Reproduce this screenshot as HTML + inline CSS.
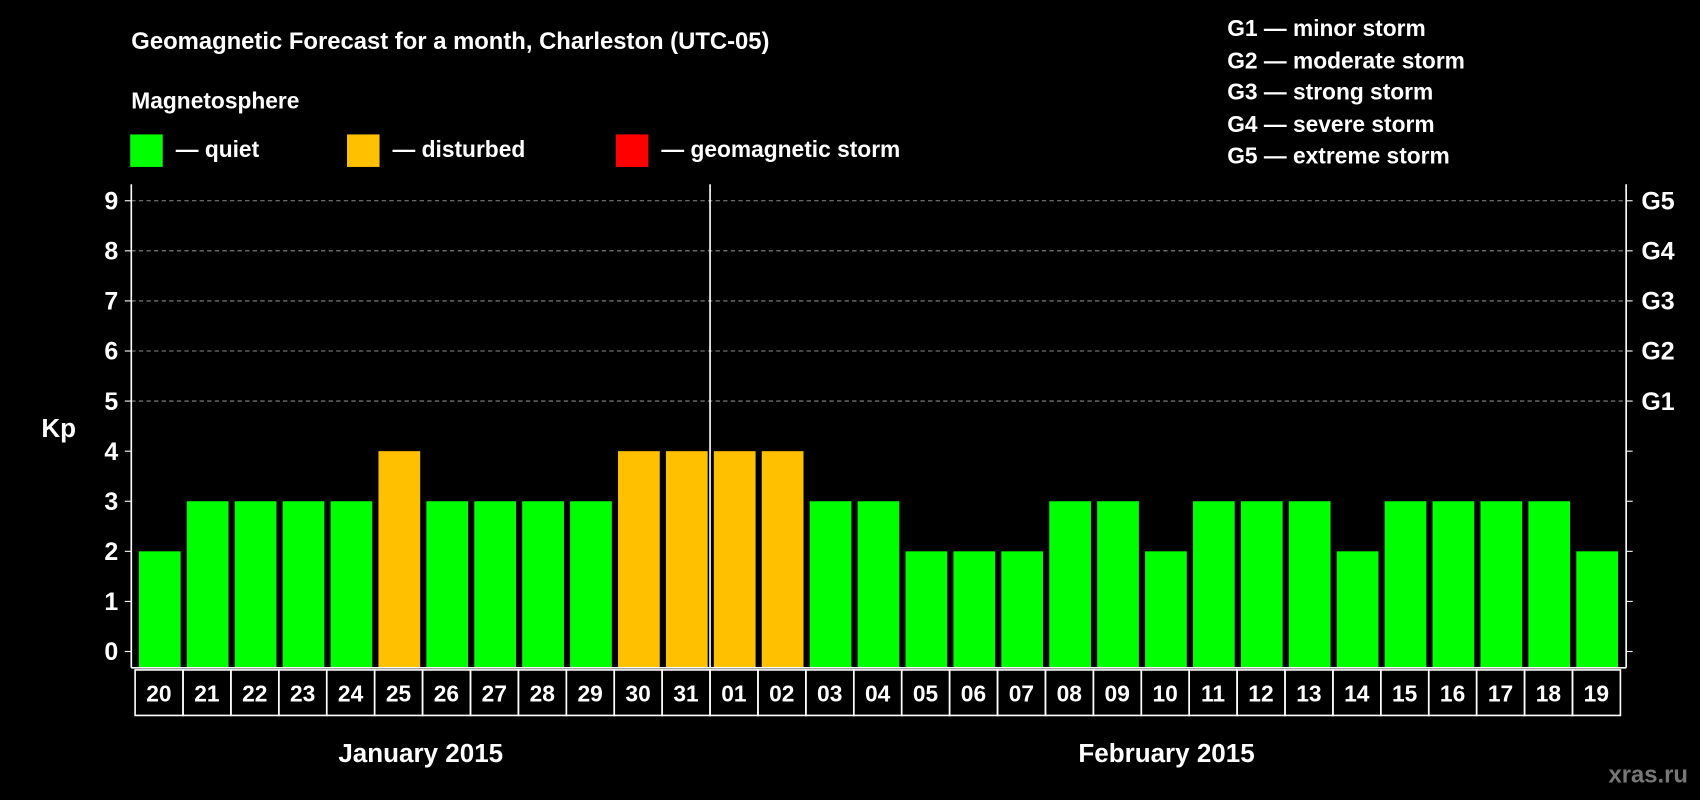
<!DOCTYPE html>
<html><head><meta charset="utf-8"><style>
html,body{margin:0;padding:0;background:#000;}
svg{display:block;font-family:"Liberation Sans",sans-serif;font-weight:bold;}
</style></head><body>
<svg id="chart" width="1700" height="800" viewBox="0 0 1568 738" xmlns="http://www.w3.org/2000/svg">
<rect width="1568" height="738" fill="#000"/>
<text x="121" y="45" fill="#fff" font-size="22">Geomagnetic Forecast for a month, Charleston (UTC-05)</text>
<text x="121" y="100" fill="#fff" font-size="21">Magnetosphere</text>
<g>
<rect x="120" y="124" width="30" height="30" fill="#00ff00"/>
<text x="162" y="145" fill="#fff" font-size="21">— quiet</text>
<rect x="320" y="124" width="30" height="30" fill="#ffc000"/>
<text x="362" y="145" fill="#fff" font-size="21">— disturbed</text>
<rect x="568" y="124" width="30" height="30" fill="#ff0000"/>
<text x="610" y="145" fill="#fff" font-size="21">— geomagnetic storm</text>
</g>
<g fill="#fff" font-size="21">
<text x="1132" y="33">G1 — minor storm</text>
<text x="1132" y="63">G2 — moderate storm</text>
<text x="1132" y="92">G3 — strong storm</text>
<text x="1132" y="122">G4 — severe storm</text>
<text x="1132" y="151">G5 — extreme storm</text>
</g>
<text x="38" y="403" fill="#fff" font-size="24">Kp</text>
<g id="plot"></g>
<text x="388" y="703" fill="#fff" font-size="24" text-anchor="middle">January 2015</text>
<text x="1076" y="703" fill="#fff" font-size="24" text-anchor="middle">February 2015</text>
<text x="1557" y="722" fill="#777" font-size="22" text-anchor="end">xras.ru</text>
</svg>
<script>
const days = ["20","21","22","23","24","25","26","27","28","29","30","31","01","02","03","04","05","06","07","08","09","10","11","12","13","14","15","16","17","18","19"];
const kpValues = [2,3,3,3,3,4,3,3,3,3,4,4,4,4,3,3,2,2,2,3,3,2,3,3,3,2,3,3,3,3,2];
const yTicks = [0,1,2,3,4,5,6,7,8,9];
const gLabels = ["G1","G2","G3","G4","G5"];
const monthBreakIndex = 12;

const NS="http://www.w3.org/2000/svg";
const g=document.getElementById('plot');
const L=121,R=1500,T=170,B=616;
const step=44.2, x0=126;
const xPos=i=>x0+i*step;
const yPos=v=>601-v*46.2;
function mk(tag,attrs){const e=document.createElementNS(NS,tag);for(const k in attrs)e.setAttribute(k,attrs[k]);g.appendChild(e);return e;}
yTicks.forEach(v=>{
  if(v>=5){const l=mk('line',{x1:L,x2:R,y1:yPos(v),y2:yPos(v),stroke:'#888','stroke-dasharray':'4,3'});
  
  }
  const t1=mk('line',{x1:L-6,x2:L,y1:yPos(v),y2:yPos(v),stroke:'#fff'});
  
  
  const t2=mk('line',{x1:R,x2:R+6,y1:yPos(v),y2:yPos(v),stroke:'#fff'});
  
  
  const tx=mk('text',{x:L-12,y:yPos(v)+8,fill:'#fff','font-size':23,'text-anchor':'end'});
  tx.textContent=v;
  
  
});
gLabels.forEach((lab,i)=>{
  const tx=mk('text',{x:R+14,y:yPos(5+i)+8,fill:'#fff','font-size':23});
  tx.textContent=lab;
  
  
});
kpValues.forEach((v,i)=>{
  const col=v>=5?'#ff0000':(v>=4?'#ffc000':'#00ff00');
  const r=mk('rect',{x:xPos(i)+2,y:yPos(v),width:38.5,height:yPos(0)-yPos(v)+15,fill:col});
  
  
});
const axisL=mk('line',{x1:L,x2:L,y1:T,y2:B,stroke:'#fff','stroke-width':1.5});


const axisR=mk('line',{x1:R,x2:R,y1:T,y2:B,stroke:'#fff','stroke-width':1.5});


const axisB=mk('line',{x1:L,x2:R,y1:B,y2:B,stroke:'#fff','stroke-width':1.5});


const brk=mk('line',{x1:xPos(monthBreakIndex)-1.5,x2:xPos(monthBreakIndex)-1.5,y1:T,y2:B,stroke:'#fff','stroke-width':1.5});


days.forEach((d,i)=>{
  const b=mk('rect',{x:xPos(i)-1.5,y:618,width:step,height:42,fill:'none',stroke:'#fff','stroke-width':1.5});
  
  
  const t=mk('text',{x:xPos(i)+20.5,y:647,fill:'#fff','font-size':21,'text-anchor':'middle'});
  t.textContent=d;
  
  
});
</script>
</body></html>
